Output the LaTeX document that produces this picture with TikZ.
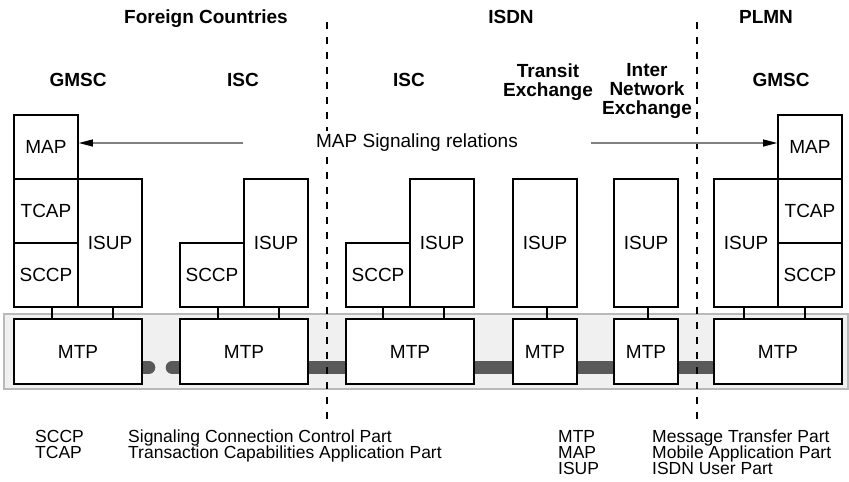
\documentclass[tikz,border=0pt]{standalone}
\usepackage{fontspec}
\setmainfont{Liberation Sans}
\usetikzlibrary{arrows.meta,backgrounds}
\setlength{\lineskiplimit}{-100pt}

\begin{document}
\begin{tikzpicture}[
    x=1pt, y=-1pt,
    font=\fontsize{19}{19}\selectfont,
    layer/.style={draw, line width=1.6pt, fill=white, inner sep=0pt,
                  minimum width=64pt},
    halfbox/.style={layer, minimum height=64pt},
    tallbox/.style={layer, minimum height=128pt},
    mtpbox/.style={layer, minimum height=65pt},
    band/.style={fill=gray!12, draw=gray!55, line width=1.5pt},
    trunk/.style={draw=black!65, line width=13pt},
    tick/.style={line width=1.6pt},
    divider/.style={line width=2.8pt, dash pattern=on 7pt off 8pt},
    sigline/.style={draw=gray, line width=1.1pt,
                    -{Triangle[length=14pt, width=7pt, color=black]}},
    heading/.style={align=center, font=\fontsize{19}{19}\selectfont\bfseries},
    legend/.style={align=left, anchor=north west, inner sep=0pt,
                   font=\fontsize{17.5}{16}\selectfont}
]
    \useasboundingbox (0,0) rectangle (849,482);

    % network headings
    \node[heading] (foreign) at (206,19) {Foreign Countries};
    \node[heading] (isdn) at (511,17) {ISDN};
    \node[heading] (plmn) at (766,17) {PLMN};

    \node[heading] (gmscLname) at (78,80) {GMSC};
    \node[heading] (iscAname) at (243,80) {ISC};
    \node[heading] (iscBname) at (409,80) {ISC};
    \node[heading] (transname) at (548,82) {Transit\\Exchange};
    \node[heading] (intername) at (647,91) {Inter\\Network\\Exchange};
    \node[heading] (gmscRname) at (781,80) {GMSC};

    % GMSC (foreign)
    \node[halfbox] (mapL) at (46,147) {MAP};
    \node[halfbox] (tcapL) at (46,211) {TCAP};
    \node[halfbox] (sccpL) at (46,275) {SCCP};
    \node[tallbox] (isupL) at (110,243) {ISUP};
    \node[mtpbox, minimum width=128pt] (mtpL) at (78,351.5) {MTP};

    % ISC (foreign)
    \node[halfbox] (sccpA) at (212,275) {SCCP};
    \node[tallbox] (isupA) at (276,243) {ISUP};
    \node[mtpbox, minimum width=128pt] (mtpA) at (244,351.5) {MTP};

    % ISC (ISDN)
    \node[halfbox] (sccpB) at (378,275) {SCCP};
    \node[tallbox] (isupB) at (442,243) {ISUP};
    \node[mtpbox, minimum width=128pt] (mtpB) at (410,351.5) {MTP};

    % transit and inter network exchange
    \node[tallbox] (isupT) at (545,243) {ISUP};
    \node[mtpbox] (mtpT) at (545,351.5) {MTP};
    \node[tallbox] (isupN) at (646,243) {ISUP};
    \node[mtpbox] (mtpN) at (646,351.5) {MTP};

    % GMSC (PLMN)
    \node[tallbox] (isupR) at (746,243) {ISUP};
    \node[halfbox] (mapR) at (810,147) {MAP};
    \node[halfbox] (tcapR) at (810,211) {TCAP};
    \node[halfbox] (sccpR) at (810,275) {SCCP};
    \node[mtpbox, minimum width=128pt] (mtpR) at (778,351.5) {MTP};

    \begin{scope}[on background layer]
        \filldraw[band] (4,314) rectangle (848,389);
        \foreach \a/\b in {mtpA/mtpB, mtpB/mtpT, mtpT/mtpN, mtpN/mtpR}
            \draw[trunk] ([yshift=-16pt]\a.east) -- ([yshift=-16pt]\b.west);
        \draw[trunk, line cap=round] ([yshift=-16pt]mtpL.east) -- ++(6,0);
        \draw[trunk, line cap=round] ([yshift=-16pt]mtpA.west) -- ++(-7,0);
    \end{scope}

    \foreach \u/\m/\d in {sccpL/mtpL/6, isupL/mtpL/3, sccpA/mtpA/6, isupA/mtpA/3,
                          sccpB/mtpB/5, isupB/mtpB/2, isupT/mtpT/2, isupN/mtpN/2,
                          isupR/mtpR/-2, sccpR/mtpR/-5}
        \draw[tick] ([xshift=\d pt]\u.south) -- ([xshift=\d pt]\u.south |- \m.north);

    % borders between networks
    \coordinate (cutAtop) at (327,22);
    \coordinate (cutAbot) at (327,422);
    \coordinate (cutBtop) at (697,22);
    \coordinate (cutBbot) at (697,422);
    \draw[divider] (cutAtop) -- (cutAbot);
    \draw[divider] (cutBtop) -- (cutBbot);

    % MAP relation
    \node[fill=white, inner xsep=73pt] (sig) at (417,143) {MAP Signaling relations};
    \draw[sigline] (sig.west) -- (sig.west -| mapL.east);
    \draw[sigline] (sig.east) -- (sig.east -| mapR.west);

    % abbreviations
    \node[legend] (abbrA) at (35,430) {SCCP\\TCAP};
    \node[legend] (textA) at (128,430) {Signaling Connection Control Part\\Transaction Capabilities Application Part};
    \node[legend] (abbrB) at (558,430) {MTP\\MAP\\ISUP};
    \node[legend] (textB) at (652,430) {Message Transfer Part\\Mobile Application Part\\ISDN User Part};

\end{tikzpicture}
\end{document}
